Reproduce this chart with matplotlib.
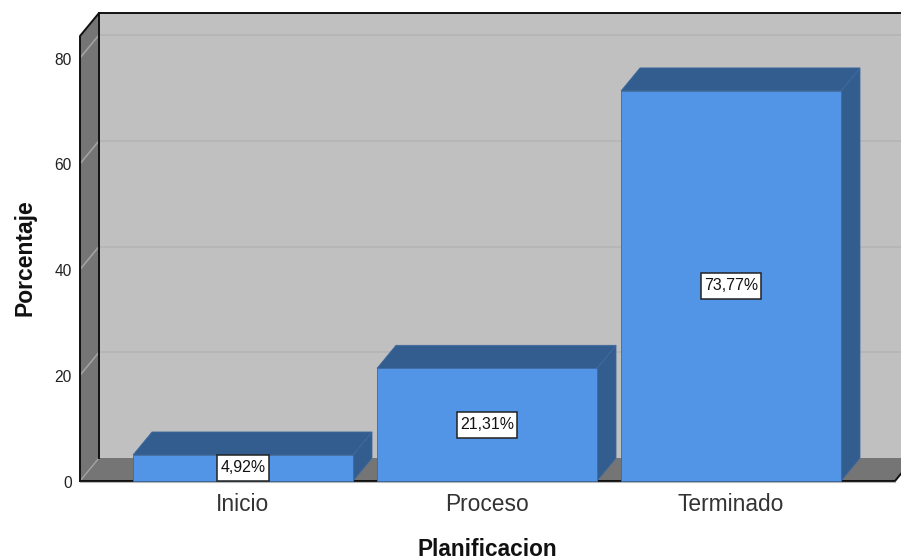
import matplotlib
matplotlib.use("Agg")
import matplotlib.pyplot as plt
from matplotlib.patches import Polygon, Rectangle

categories = ["Inicio", "Proceso", "Terminado"]
values = [4.92, 21.31, 73.77]
y_ticks = [0, 20, 40, 60, 80]

# Scale of the chart: one category step and one percentage point, in pixels
W, H = 901, 560
STEP_PX = 244.0
UNIT_PX = 5.2875
X0_PX, Y0_PX = 243.0, 481.0
DX = 19 / STEP_PX       # oblique depth along x
DY = 23 / UNIT_PX       # oblique depth along y
BAR_W = 220 / STEP_PX
LEFT = (80 - X0_PX) / STEP_PX
RIGHT = (895 - X0_PX) / STEP_PX
TOP = 84.16

plt.rcParams["font.family"] = ["Liberation Sans", "DejaVu Sans"]
fig = plt.figure(figsize=(W / 100, H / 100), dpi=100, facecolor="white")
ax = fig.add_axes([0, 0, 1, 1])
ax.set_xlim(-X0_PX / STEP_PX, (W - X0_PX) / STEP_PX)
ax.set_ylim((Y0_PX - H) / UNIT_PX, Y0_PX / UNIT_PX)
ax.axis("off")

WALL = "#c0c0c0"
SHADE = "#757575"
GRID_BACK = "#b4b4b4"
GRID_SIDE = "#a2a2a2"
FRONT = "#5294e6"
DARK = "#335c8f"
EDGE = "#3d6a9e"

# Back wall, left wall and floor
ax.add_patch(Polygon([(LEFT + DX, DY), (RIGHT + DX, DY), (RIGHT + DX, TOP + DY), (LEFT + DX, TOP + DY)],
                     fc=WALL, ec="none", zorder=1))
ax.add_patch(Polygon([(LEFT, 0), (LEFT + DX, DY), (LEFT + DX, TOP + DY), (LEFT, TOP)],
                     fc=SHADE, ec="none", zorder=1))
ax.add_patch(Polygon([(LEFT, 0), (RIGHT, 0), (RIGHT + DX, DY), (LEFT + DX, DY)],
                     fc=SHADE, ec="none", zorder=1))

# Gridlines run along the back wall and fold onto the left wall
for t in y_ticks[1:]:
    ax.plot([LEFT + DX, RIGHT + DX], [t + DY, t + DY], color=GRID_BACK, lw=1.2, zorder=2)
    ax.plot([LEFT, LEFT + DX], [t, t + DY], color=GRID_SIDE, lw=1.2, zorder=2)
ax.plot([LEFT, LEFT + DX], [0, DY], color=GRID_SIDE, lw=1.0, zorder=2)

# Frame outline
frame = dict(color="#111111", lw=1.4, zorder=3, solid_capstyle="projecting")
ax.plot([LEFT, LEFT, LEFT + DX, RIGHT + DX], [0, TOP, TOP + DY, TOP + DY], **frame)
ax.plot([LEFT + DX, LEFT + DX], [DY, TOP + DY], **frame)
ax.plot([LEFT, RIGHT, RIGHT + DX], [0, 0, DY], **frame)

# Bars with side and top faces, and a boxed value label on each front
renderer = fig.canvas.get_renderer()
BOX_H = 26 / UNIT_PX
for i, v in enumerate(values):
    x0, x1 = i - BAR_W / 2, i + BAR_W / 2
    ax.add_patch(Polygon([(x1, 0), (x1 + DX, DY), (x1 + DX, v + DY), (x1, v)],
                         fc=DARK, ec=EDGE, lw=0.6, zorder=4))
    ax.add_patch(Polygon([(x0, v), (x1, v), (x1 + DX, v + DY), (x0 + DX, v + DY)],
                         fc=DARK, ec=EDGE, lw=0.6, zorder=4))
    ax.add_patch(Rectangle((x0, 0), BAR_W, v, fc=FRONT, ec=EDGE, lw=0.6, zorder=5))
    label = ax.text(i, v / 2, f"{v:.2f}%".replace(".", ","), ha="center", va="center",
                    fontsize=11.4, color="#111111", zorder=7)
    box_w = (label.get_window_extent(renderer).width + 6) / STEP_PX
    ax.add_patch(Rectangle((i - box_w / 2, v / 2 - BOX_H / 2), box_w, BOX_H,
                           fc="white", ec="#222222", lw=1.1, zorder=6))

# Light baseline under the front of the chart
ax.plot([LEFT, RIGHT], [-0.28, -0.28], color="#b8b8b8", lw=0.8, zorder=3)

# Tick labels and axis titles
for t in y_ticks:
    ax.text(LEFT - 8 / STEP_PX, t - 2 / UNIT_PX, str(t), ha="right", va="center",
            fontsize=11.2, color="#222222")
for i, c in enumerate(categories):
    ax.text(i, -23.5 / UNIT_PX, c, ha="center", va="center", fontsize=16.4, color="#333333")
ax.text((487 - X0_PX) / STEP_PX, (481 - 549) / UNIT_PX, "Planificacion", ha="center", va="center",
        fontsize=16.3, fontweight="bold", color="#111111")
ax.text((25 - X0_PX) / STEP_PX, (481 - 258) / UNIT_PX, "Porcentaje", ha="center", va="center",
        rotation=90, fontsize=16.5, fontweight="bold", color="#111111")

fig.savefig("out.png", dpi=100, facecolor="white")
